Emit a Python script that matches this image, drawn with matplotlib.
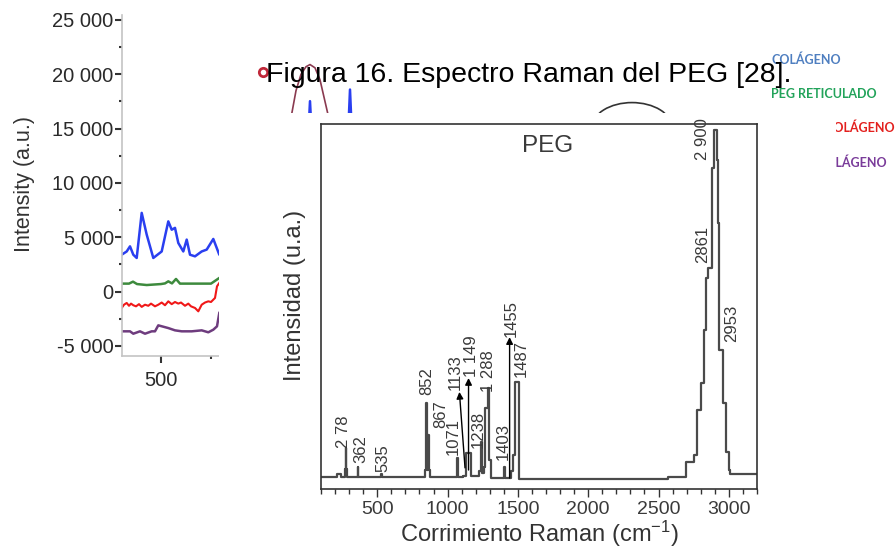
import numpy as np
import matplotlib
matplotlib.use('Agg')
import matplotlib.pyplot as plt
from matplotlib.patches import Rectangle, Ellipse
from matplotlib.ticker import MultipleLocator, FixedLocator

plt.rcParams['font.family'] = ['Liberation Sans', 'DejaVu Sans']
plt.rcParams['mathtext.fontset'] = 'custom'
plt.rcParams['mathtext.rm'] = 'Liberation Sans'

# PEG spectrum trace (Raman shift cm-1, intensity a.u.)
shift = [100, 200, 215, 230, 240, 265, 270, 275, 280, 285, 355, 360, 365, 520, 528, 536,
         830, 838, 847, 852, 860, 864, 870, 878, 1060, 1066, 1072, 1110, 1130, 1134, 1150,
         1160, 1165, 1200, 1220, 1237, 1245, 1258, 1265, 1278, 1286, 1292, 1305, 1310, 1395,
         1399, 1405, 1440, 1448, 1468, 1478, 1482, 1501, 1506, 2563, 2570, 2690, 2695, 2735,
         2750, 2770, 2776, 2801, 2820, 2837, 2855, 2879, 2894, 2913, 2922, 2932, 2955, 2961,
         2980, 3003, 3010, 3200]
intensity = [3.2, 3.3, 4.0, 4.0, 3.3, 3.4, 5.5, 11.2, 5.5, 3.3, 3.3, 6.1, 3.3, 3.3, 4.1, 3.3,
             3.3, 5.2, 23.6, 5.2, 5.2, 14.8, 5.2, 3.3, 3.3, 8.4, 3.3, 3.6, 5.0, 9.8, 9.8,
             9.8, 3.5, 3.5, 5.0, 13.0, 4.5, 6.0, 22.2, 22.2, 27.7, 7.9, 7.9, 3.0, 3.0,
             6.1, 3.0, 3.0, 5.0, 9.3, 9.3, 29.4, 29.4, 2.7, 2.7, 3.4, 3.4, 7.5, 7.5,
             9.3, 9.3, 21.6, 29.0, 43.6, 57.7, 60.5, 87.9, 98.4, 90.1, 72.9, 38.1, 33.5, 23.6,
             10.2, 5.2, 4.1, 4.1]

# peak labels: text, x, y of label bottom
peak_labels = ['2 78', '362', '535', '852', '867', '1071', '1133', '1 149', '1238', '1 288',
               '1403', '1455', '1487', '2861', '2 900', '2953']
peak_x = [258, 386, 543, 849, 949, 1042, 1052, 1168, 1220, 1292, 1399, 1452, 1527, 2811, 2811, 3018]
peak_y = [11.2, 7.1, 4.7, 25.8, 16.7, 9.3, 27.1, 30.7, 11.2, 26.6, 7.9, 41.6, 30.7, 61.9, 90.1, 40.3]

# arrows: (start x, start y, end x, end y)
arrows = [(1124, 5.8, 1084, 26.6), (1149, 5.2, 1149, 30.4), (1441, 3.0, 1441, 41.6)]

# background spectra (partly hidden)
bg_blue_x = [107, 157, 190, 223, 257, 307, 357, 423, 507, 573, 607, 640, 673, 723, 757, 790,
             840, 907, 957, 1023, 1083, 1500, 1900, 1960, 1990, 2020, 2100, 2300, 2360, 2390,
             2420, 2500, 2780, 2820, 2860, 3000]
bg_blue_y = [3400, 3700, 4170, 3400, 3100, 7250, 5250, 3100, 3700, 6470, 5700, 5870, 4480, 3700,
             4790, 3400, 3250, 3700, 3870, 4850, 3400, 5000, 9000, 12000, 17530, 12000, 9000,
             9000, 12000, 18600, 12000, 9000, 9000, 16300, 9000, 6000]
bg_green_x = [107, 180, 220, 260, 357, 500, 540, 573, 610, 650, 690, 800, 1000, 1083]
bg_green_y = [740, 740, 920, 700, 610, 700, 760, 950, 760, 1170, 740, 740, 740, 1260]
bg_red_x = [107, 130, 157, 180, 200, 223, 250, 280, 307, 340, 373, 400, 440, 473, 507, 540,
            573, 607, 640, 673, 700, 740, 773, 800, 840, 873, 907, 940, 973, 1000, 1040, 1060, 1083]
bg_red_y = [-1500, -1200, -1040, -1300, -1100, -1250, -1350, -1150, -1400, -1200, -1300, -1100,
            -1350, -1200, -1000, -1250, -890, -1150, -950, -1100, -1000, -1300, -1100, -1350,
            -1500, -1810, -1200, -1000, -890, -950, -580, 490, 800]
bg_purple_x = [107, 190, 223, 290, 340, 407, 440, 473, 573, 640, 707, 807, 907, 973, 1023, 1060, 1083]
bg_purple_y = [-3650, -3650, -3870, -3650, -3870, -3650, -3650, -3100, -3350, -3560, -3650,
               -3650, -3560, -3740, -3500, -3190, -1960]
bg_arc_x = [1760, 1800, 1850, 1900, 1950, 1990, 2040, 2090, 2140, 2190, 2220]
bg_arc_y = [13000, 16000, 18500, 20000, 20700, 20900, 20600, 19500, 17500, 15500, 13000]

bg_yticks = [-5000, 0, 5000, 10000, 15000, 20000, 25000]
bg_ylabels = ['-5 000', '0', '5 000', '10 000', '15 000', '20 000', '25 000']

legend_texts = ['COLÁGENO', 'PEG RETICULADO', 'COLÁGENO', 'COLÁGENO']
legend_colors = ['#4f7fc0', '#22a35a', '#e3201e', '#7a3c9a']

W, H = 896, 549
fig = plt.figure(figsize=(8.96, 5.49), dpi=100)
fig.patch.set_facecolor('white')

# ---- background chart ----
bg = fig.add_axes([122 / W, 1 - 356 / H, 774 / W, 341 / H], zorder=0)
bg.patch.set_alpha(0)
bg.plot(bg_blue_x, bg_blue_y, color='#2a3ff0', lw=1.8)
bg.plot(bg_green_x, bg_green_y, color='#3d8a3d', lw=1.8)
bg.plot(bg_red_x, bg_red_y, color='#f01818', lw=1.5)
bg.plot(bg_purple_x, bg_purple_y, color='#6e3c7e', lw=1.8)
bg.plot(bg_arc_x, bg_arc_y, color='#8a3a50', lw=1.2)
bg.plot([1520], [20170], marker='o', ms=6, mfc='none', mec='#c0283a', mew=2)
bg.add_patch(Ellipse((5210, 15100), 800, 4600, fill=False, ec='#333333', lw=1.2))
bg.set_xlim(110, 7850)
bg.set_ylim(-5921, 25460)
bg.set_yticks(bg_yticks)
bg.set_yticklabels(bg_ylabels)
bg.yaxis.set_minor_locator(MultipleLocator(2500))
bg.xaxis.set_major_locator(FixedLocator([500, 1500]))
bg.xaxis.set_minor_locator(FixedLocator([1000]))
for s in ['top', 'right']:
    bg.spines[s].set_visible(False)
for s in ['left', 'bottom']:
    bg.spines[s].set_color('#c4c4c4')
    bg.spines[s].set_linewidth(1.2)
bg.spines['bottom'].set_bounds(110, 1300)
bg.tick_params(which='major', length=5, width=1.5, color='#333333', labelsize=14.5,
               labelcolor='#2a2a2a', pad=1)
bg.tick_params(axis='x', which='major', pad=6)
bg.tick_params(which='minor', length=2, width=1.5, color='#333333')
bg.set_ylabel('Intensity (a.u.)', fontsize=15.5, color='#333333')
bg.yaxis.set_label_coords(-0.113, 0.504)

# legend fragments of the background figure
leg_x = [771, 771, 825, 817]
leg_y = [60, 94, 128, 163]
for t, c, lx, ly in zip(legend_texts, legend_colors, leg_x, leg_y):
    fig.text(lx / W, 1 - ly / H, t, color=c, fontsize=9, fontweight='bold', family='Lato',
             ha='left', va='center', zorder=0.5)

# white area of the pasted figure
fig.patches.append(Rectangle((219 / W, 0), (836 - 219) / W, (H - 113) / H,
                             transform=fig.transFigure, facecolor='white',
                             edgecolor='none', zorder=1))

# ---- main PEG chart ----
ax = fig.add_axes([321 / W, 1 - 489 / H, 436 / W, 365 / H], zorder=2)
ax.set_facecolor('white')
ax.plot(shift, intensity, drawstyle='steps-post', color='#4a4a4a', lw=1.6)
ax.set_xlim(100, 3200)
ax.set_ylim(0, 100)
ax.set_yticks([])
ax.xaxis.set_major_locator(MultipleLocator(500))
ax.xaxis.set_minor_locator(MultipleLocator(100))
ax.tick_params(axis='x', which='major', direction='out', length=6, width=1, color='#333333',
               labelsize=14, labelcolor='#3a3a3a', pad=3)
ax.tick_params(axis='x', which='minor', direction='out', length=3.5, width=1, color='#333333')
for s in ax.spines.values():
    s.set_color('#333333')
    s.set_linewidth(1.2)
ax.set_xlabel(r'Corrimiento Raman (cm$\mathregular{^{-1}}$)', fontsize=17, color='#333333',
              labelpad=0)
ax.set_ylabel('Intensidad (u.a.)', fontsize=17, color='#333333')
ax.yaxis.set_label_coords(-0.035, 0.53)
ax.text(0.52, 0.94, 'PEG', transform=ax.transAxes, ha='center', va='center',
        fontsize=17.5, color='#3a3a3a')

for t, px, py in zip(peak_labels, peak_x, peak_y):
    ax.text(px, py, t, rotation=90, ha='center', va='bottom', fontsize=12, color='#3a3a3a')

for x0, y0, x1, y1 in arrows:
    ax.annotate('', xy=(x1, y1), xytext=(x0, y0),
                arrowprops=dict(arrowstyle='-|>', color='black', lw=1, mutation_scale=10,
                                shrinkA=0, shrinkB=0))

fig.text(266 / W, 1 - 82 / H, 'Figura 16. Espectro Raman del PEG [28].', fontsize=20.5,
         color='black', ha='left', va='baseline', zorder=3)

fig.savefig('out.png', dpi=100, facecolor='white')
